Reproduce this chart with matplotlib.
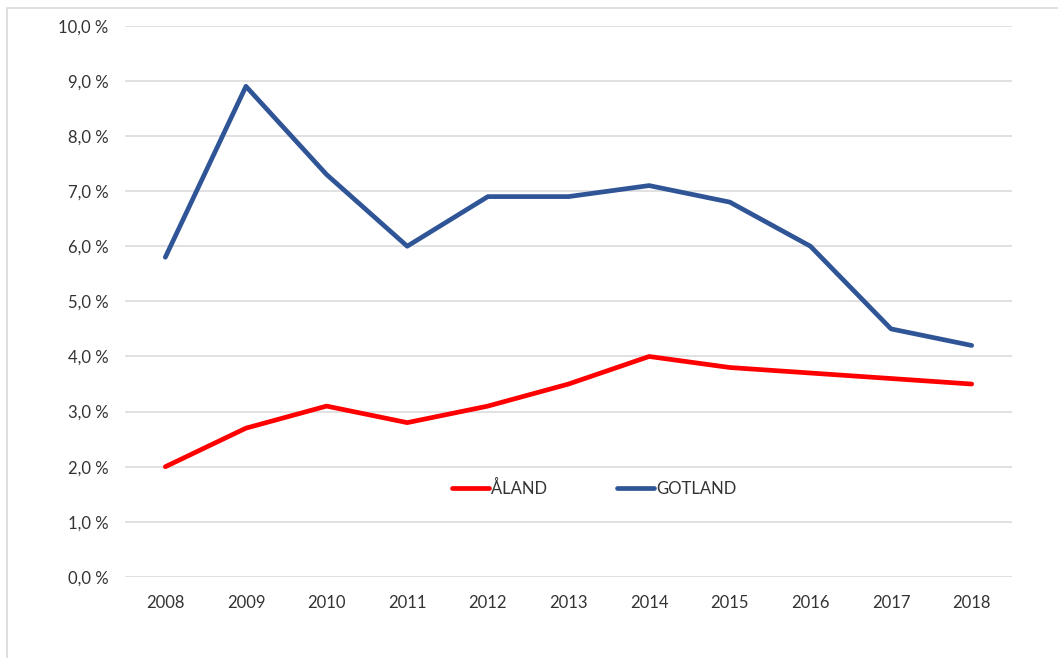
import matplotlib
matplotlib.use("Agg")
import matplotlib.pyplot as plt
from matplotlib.patches import Rectangle

years = ["2008", "2009", "2010", "2011", "2012", "2013", "2014", "2015", "2016", "2017", "2018"]
aland = [2.0, 2.7, 3.1, 2.8, 3.1, 3.5, 4.0, 3.8, 3.7, 3.6, 3.5]
gotland = [5.8, 8.9, 7.3, 6.0, 6.9, 6.9, 7.1, 6.8, 6.0, 4.5, 4.2]
y_ticks = [0, 1, 2, 3, 4, 5, 6, 7, 8, 9, 10]
y_labels = ["0,0 %", "1,0 %", "2,0 %", "3,0 %", "4,0 %", "5,0 %", "6,0 %", "7,0 %", "8,0 %", "9,0 %", "10,0 %"]

plt.rcParams['font.family'] = ['Lato', 'DejaVu Sans']

W, H = 1058, 658
fig = plt.figure(figsize=(W / 100, H / 100), dpi=100)
fig.patch.set_facecolor("white")

# chart frame (only the top and left edges fall inside the image)
fig.patches.append(Rectangle((7 / W, -0.1), 1.2, 1 - 8 / H + 0.1, transform=fig.transFigure,
                             fill=False, edgecolor="#d9d9d9", linewidth=1.2))

ax = fig.add_axes([125 / W, 1 - 577 / H, (1012 - 125) / W, (577 - 25.7) / H])
x = list(range(len(years)))

ax.plot(x, aland, color="#ff0000", linewidth=3.4, solid_capstyle="round",
        solid_joinstyle="round", label="ÅLAND", zorder=3)
ax.plot(x, gotland, color="#2f5597", linewidth=3.4, solid_capstyle="round",
        solid_joinstyle="round", label="GOTLAND", zorder=3)

ax.set_xlim(-0.5, len(years) - 0.5)
ax.set_ylim(0, 10)
ax.set_xticks(x)
ax.set_xticklabels(years)
ax.set_yticks(y_ticks)
ax.set_yticklabels(y_labels)
ax.tick_params(axis="both", length=0, labelsize=12, colors="#333333")
ax.tick_params(axis="y", pad=12)
ax.tick_params(axis="x", pad=13)
for s in ax.spines.values():
    s.set_visible(False)
ax.grid(axis="y", color="#d9d9d9", linewidth=1.1)
ax.set_axisbelow(True)

leg = ax.legend(loc="center", bbox_to_anchor=(0.529, 0.16), ncol=2, frameon=False,
                handlelength=2.2, handletextpad=0.15, columnspacing=4.2, fontsize=12)
for t in leg.get_texts():
    t.set_color("#333333")

fig.savefig("out.png", dpi=100, facecolor="white")
